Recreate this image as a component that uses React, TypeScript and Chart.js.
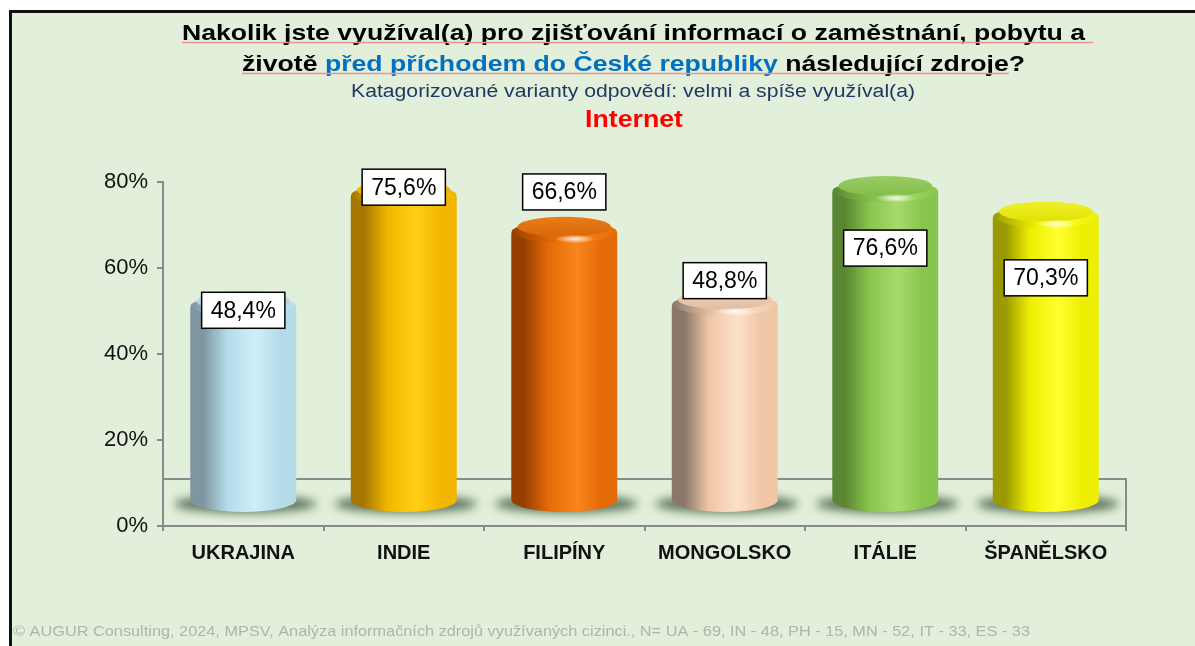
import React, { useEffect, useRef } from 'react';
import { Chart, registerables } from 'chart.js';
Chart.register(...registerables);

const categories = ['UKRAJINA', 'INDIE', 'FILIPÍNY', 'MONGOLSKO', 'ITÁLIE', 'ŠPANĚLSKO'];
const values = [48.4, 75.6, 66.6, 48.8, 76.6, 70.3];
const valueLabels = ['48,4%', '75,6%', '66,6%', '48,8%', '76,6%', '70,3%'];
const yTicks = [0, 20, 40, 60, 80];

const titleLine1 = 'Nakolik jste využíval(a) pro zjišťování informací o zaměstnání, pobytu a';
const titleLine2 = ['životě ', 'před příchodem do České republiky', ' následující zdroje?'];
const subtitle = 'Katagorizované varianty odpovědí: velmi a spíše využíval(a)';
const sourceName = 'Internet';
const footnote =
  '© AUGUR Consulting, 2024, MPSV, Analýza informačních zdrojů využívaných cizinci., N= UA - 69, IN - 48, PH - 15, MN - 52, IT - 33, ES - 33';

// [dark edge, main, highlight]
const barShades = [
  ['#7d96a1', '#b5dbe9', '#cdeffa'],
  ['#a67700', '#f2b600', '#ffd014'],
  ['#963f00', '#e56a08', '#fa861c'],
  ['#8c786b', '#efc6a6', '#fde1ca'],
  ['#5a8633', '#88c54e', '#a6db6a'],
  ['#999900', '#eeee00', '#ffff30'],
];
// label box vertical shift relative to cylinder top (px)
const labelShift = [8, -4, -36, -20, 61, 65];

const FONT = "'Liberation Sans', Arial, sans-serif";
const AXIS = '#8a8a8a';

function fitText(ctx: CanvasRenderingContext2D, text: string, x: number, y: number, width: number) {
  const w = ctx.measureText(text).width;
  ctx.save();
  ctx.translate(x, y);
  ctx.scale(width / w, 1);
  ctx.fillText(text, 0, 0);
  ctx.restore();
}

const framePlugin = {
  id: 'frame',
  beforeDraw(chart: any) {
    const ctx = chart.ctx as CanvasRenderingContext2D;
    const W = chart.width, H = chart.height;
    ctx.save();
    ctx.fillStyle = '#ffffff';
    ctx.fillRect(0, 0, W, H);
    ctx.fillStyle = '#E2EFDA';
    ctx.fillRect(12, 13, W - 12, H - 13);
    ctx.fillStyle = '#111111';
    ctx.fillRect(9, 10, W - 9, 3);
    ctx.fillRect(9, 10, 3, H - 10);
    ctx.restore();
  },
  afterDraw(chart: any) {
    const ctx = chart.ctx as CanvasRenderingContext2D;
    ctx.save();
    ctx.textAlign = 'left';
    ctx.textBaseline = 'alphabetic';
    // line 1
    ctx.font = `bold 22px ${FONT}`;
    ctx.fillStyle = '#000000';
    fitText(ctx, titleLine1, 182, 40, 903);
    // line 2 mixed colours
    const total = titleLine2.reduce((s, t) => s + ctx.measureText(t).width, 0);
    const k = 783 / total;
    let x = 242;
    const cols = ['#000000', '#0070C0', '#000000'];
    titleLine2.forEach((t, i) => {
      const w = ctx.measureText(t).width;
      ctx.fillStyle = cols[i];
      ctx.save();
      ctx.translate(x, 71);
      ctx.scale(k, 1);
      ctx.fillText(t, 0, 0);
      ctx.restore();
      x += w * k;
    });
    // red underlines
    ctx.strokeStyle = '#F29090';
    ctx.lineWidth = 1.3;
    ctx.beginPath();
    ctx.moveTo(182, 42.5);
    ctx.lineTo(1093, 42.5);
    ctx.moveTo(242, 73.5);
    ctx.lineTo(1009, 73.5);
    ctx.stroke();
    // subtitle
    ctx.font = `18px ${FONT}`;
    ctx.fillStyle = '#1F3864';
    fitText(ctx, subtitle, 351, 97, 564);
    // Internet
    ctx.font = `bold 24px ${FONT}`;
    ctx.fillStyle = '#FF0000';
    fitText(ctx, sourceName, 585, 127, 98);
    // footnote
    ctx.font = `15px ${FONT}`;
    ctx.fillStyle = '#B2B2B2';
    fitText(ctx, footnote, 13, 636, 1017);
    ctx.restore();
  },
};

const cylinderPlugin = {
  id: 'cylinders',
  beforeDatasetsDraw(chart: any) {
    const ctx = chart.ctx as CanvasRenderingContext2D;
    const { left, right } = chart.chartArea;
    const base0 = chart.scales.y.getPixelForValue(0);
    const back = base0 - 47;
    ctx.save();
    ctx.strokeStyle = AXIS;
    ctx.lineWidth = 2;
    ctx.beginPath();
    ctx.moveTo(left, back);
    ctx.lineTo(right, back);
    ctx.lineTo(right, base0 + 5);
    ctx.stroke();
    ctx.restore();
  },
  afterDatasetsDraw(chart: any) {
    const ctx = chart.ctx as CanvasRenderingContext2D;
    const meta = chart.getDatasetMeta(0);
    const base0 = chart.scales.y.getPixelForValue(0);
    const cylBase = base0 - 26;
    const ry = 12;
    meta.data.forEach((el: any, i: number) => {
      const { x, y, width } = el.getProps(['x', 'y', 'width'], true);
      const rx = width / 2;
      const top = cylBase - (base0 - y) * 0.95;
      const l = x - rx, r = x + rx;
      const [dark, main, hi] = barShades[i];

      // shadow
      ctx.save();
      ctx.filter = 'blur(5px)';
      ctx.fillStyle = 'rgba(60,85,60,0.8)';
      ctx.beginPath();
      ctx.ellipse(x + 2, cylBase + 4, rx + 18, 9, 0, 0, Math.PI * 2);
      ctx.fill();
      ctx.restore();

      // body with rounded (bevelled) top corners
      const g = ctx.createLinearGradient(l, 0, r, 0);
      g.addColorStop(0, dark);
      g.addColorStop(0.12, dark);
      g.addColorStop(0.35, main);
      g.addColorStop(0.62, hi);
      g.addColorStop(0.85, main);
      g.addColorStop(1, main);
      const bev = 6;
      ctx.save();
      ctx.fillStyle = g;
      ctx.beginPath();
      ctx.moveTo(l, top + bev);
      ctx.lineTo(l, cylBase);
      ctx.ellipse(x, cylBase, rx, ry, 0, Math.PI, 0, true);
      ctx.lineTo(r, top + bev);
      ctx.quadraticCurveTo(r, top, r - bev, top);
      ctx.lineTo(l + bev, top);
      ctx.quadraticCurveTo(l, top, l, top + bev);
      ctx.closePath();
      ctx.fill();

      // front half of rounded cap edge (bevel band)
      ctx.beginPath();
      ctx.ellipse(x, top + bev * 0.4, rx - 1, ry + 1, 0, 0, Math.PI);
      ctx.ellipse(x, top - bev * 0.2, rx - bev, ry - 2, 0, Math.PI, 0, true);
      ctx.closePath();
      const gb = ctx.createLinearGradient(l, 0, r, 0);
      gb.addColorStop(0, dark);
      gb.addColorStop(0.4, main);
      gb.addColorStop(0.62, hi);
      gb.addColorStop(1, main);
      ctx.fillStyle = gb;
      ctx.fill();

      // top surface
      const gc = ctx.createLinearGradient(0, top - ry, 0, top + ry);
      gc.addColorStop(0, hi);
      gc.addColorStop(1, main);
      ctx.fillStyle = gc;
      ctx.beginPath();
      ctx.ellipse(x, top - bev * 0.2, rx - bev, ry - 2, 0, 0, Math.PI * 2);
      ctx.fill();
      ctx.fillStyle = 'rgba(0,0,0,0.06)';
      ctx.fill();

      // specular spot on the front of the cap
      const sx = x + width * 0.1, sy = top + ry - 1;
      const rg = ctx.createRadialGradient(sx, sy, 0, sx, sy, 20);
      rg.addColorStop(0, 'rgba(255,255,255,0.85)');
      rg.addColorStop(1, 'rgba(255,255,255,0)');
      ctx.save();
      ctx.translate(sx, sy);
      ctx.scale(1, 0.22);
      ctx.translate(-sx, -sy);
      ctx.fillStyle = rg;
      ctx.beginPath();
      ctx.arc(sx, sy, 20, 0, Math.PI * 2);
      ctx.fill();
      ctx.restore();
      ctx.restore();
    });

    // labels
    ctx.save();
    ctx.font = `23px ${FONT}`;
    ctx.textAlign = 'center';
    ctx.textBaseline = 'middle';
    meta.data.forEach((el: any, i: number) => {
      const { x, y } = el.getProps(['x', 'y'], true);
      const top = cylBase - (base0 - y) * 0.95;
      const cy = top + labelShift[i];
      const text = valueLabels[i];
      const w = ctx.measureText(text).width + 18;
      const h = 36;
      ctx.fillStyle = '#ffffff';
      ctx.fillRect(x - w / 2, cy - h / 2, w, h);
      ctx.strokeStyle = '#000000';
      ctx.lineWidth = 1.5;
      ctx.strokeRect(x - w / 2, cy - h / 2, w, h);
      ctx.fillStyle = '#000000';
      ctx.fillText(text, x, cy + 1);
    });
    ctx.restore();
  },
};

export default function App() {
  const ref = useRef<HTMLCanvasElement>(null);
  useEffect(() => {
    if (!ref.current) return;
    const chart = new Chart(ref.current, {
      type: 'bar',
      data: {
        labels: categories,
        datasets: [
          {
            data: values,
            backgroundColor: 'rgba(0,0,0,0)',
            borderWidth: 0,
            barPercentage: 0.66,
            categoryPercentage: 1,
          },
        ],
      },
      options: {
        responsive: false,
        animation: false,
        devicePixelRatio: 1,
        layout: { padding: { top: 182, right: 69, left: 0, bottom: 0 } },
        plugins: { legend: { display: false }, title: { display: false }, tooltip: { enabled: false } },
        scales: {
          x: {
            grid: { display: true, drawOnChartArea: false, offset: true, tickLength: 5, color: AXIS, lineWidth: 2 },
            border: { color: AXIS, width: 2 },
            ticks: { font: { family: FONT, size: 20, weight: 'bold' }, color: '#111111', padding: 10 },
            afterFit: (s: any) => {
              s.height = 120;
            },
          },
          y: {
            min: 0,
            max: 80,
            afterBuildTicks: (s: any) => {
              s.ticks = yTicks.map((v) => ({ value: v }));
            },
            ticks: { callback: (v: any) => v + '%', font: { family: FONT, size: 22 }, color: '#111111', padding: 9 },
            grid: { drawOnChartArea: false, tickLength: 6, color: AXIS, lineWidth: 2 },
            border: { color: AXIS, width: 2 },
            afterFit: (s: any) => {
              s.width = 163;
            },
          },
        },
      } as any,
      plugins: [framePlugin, cylinderPlugin],
    });
    return () => chart.destroy();
  }, []);
  return (
    <div style={{ position: 'absolute', left: 0, top: 0, width: 1195, height: 646 }}>
      <canvas ref={ref} width={1195} height={646} style={{ display: 'block' }} />
    </div>
  );
}
